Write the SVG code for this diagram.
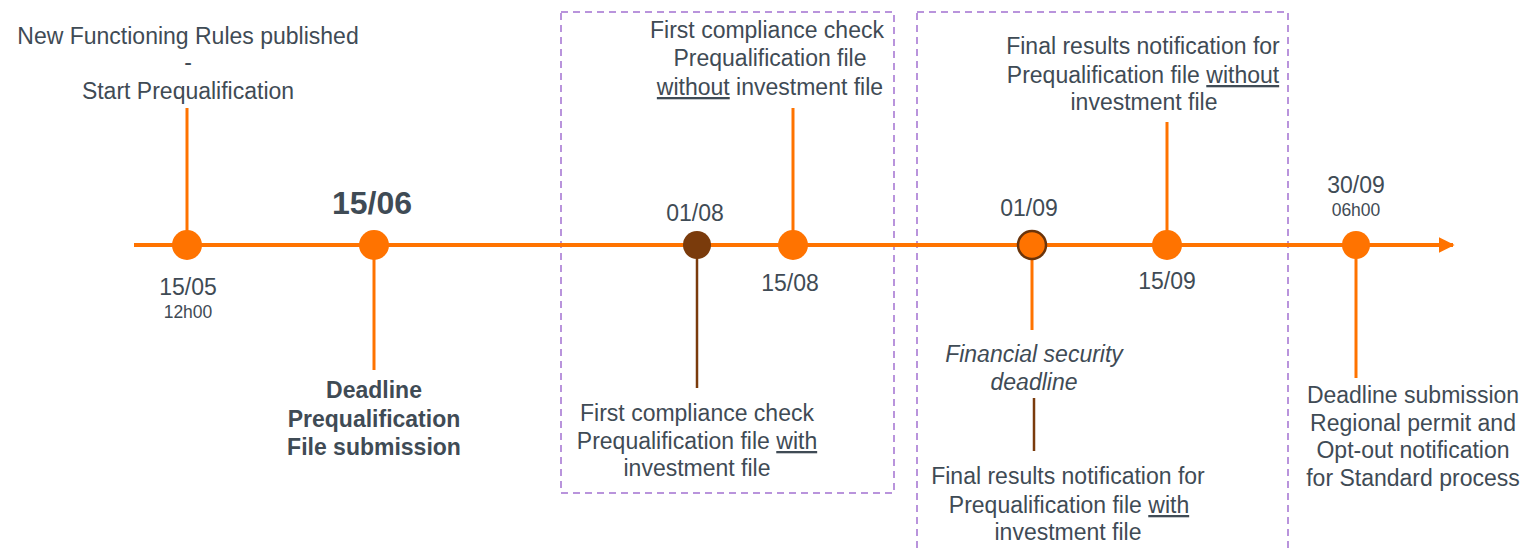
<svg xmlns="http://www.w3.org/2000/svg" width="1524" height="549" viewBox="0 0 1524 549">
<defs>
<style>
text{font-family:"Liberation Sans",Arial,sans-serif;fill:#3f4b55;font-size:23px;text-anchor:middle}
.sm{font-size:17.5px}
.b{font-weight:bold}
.i{font-style:italic}
.u{text-decoration:underline}
.or{stroke:#ff7300;stroke-width:3;fill:none}
.br{stroke:#7a3b0c;stroke-width:2.5;fill:none}
.dot{fill:#ff7300}
.box{fill:none;stroke:#a371d1;stroke-width:1.5;stroke-dasharray:7,5}
</style>
<marker id="ah" viewBox="0 0 10 10" refX="9" refY="5" markerWidth="4" markerHeight="4" orient="auto" markerUnits="strokeWidth"><path d="M0,0 L10,5 L0,10 z" fill="#ff7300"/></marker>
</defs>
<rect width="1524" height="549" fill="#fff"/>
<g id="boxes">
<rect class="box" x="561" y="12" width="333" height="481"/>
<rect class="box" x="917" y="12" width="371" height="545"/>
</g>
<g id="connectors">
<line x1="134" y1="245" x2="1453" y2="245" stroke="#ff7300" stroke-width="4" marker-end="url(#ah)"/>
<line class="or" x1="187" y1="108" x2="187" y2="245"/>
<line class="or" x1="374" y1="245" x2="374" y2="370"/>
<line class="br" x1="697" y1="245" x2="697" y2="388"/>
<line class="or" x1="793" y1="108" x2="793" y2="245"/>
<line class="or" x1="1032" y1="245" x2="1032" y2="330"/>
<line class="br" x1="1034" y1="398" x2="1034" y2="451"/>
<line class="or" x1="1167" y1="122" x2="1167" y2="245"/>
<line class="or" x1="1356" y1="245" x2="1356" y2="378"/>
</g>
<g id="n1505">
<circle class="dot" cx="187" cy="245" r="15"/>
<text x="188" y="44">New Functioning Rules published</text>
<text x="188" y="70">-</text>
<text x="188" y="99">Start Prequalification</text>
<text x="188" y="295">15/05</text>
<text class="sm" x="188" y="318">12h00</text>
</g>
<g id="n1506">
<circle class="dot" cx="374" cy="245" r="15"/>
<text class="b" x="372" y="214" style="font-size:32px">15/06</text>
<text class="b" x="374" y="398">Deadline</text>
<text class="b" x="374" y="427">Prequalification</text>
<text class="b" x="374" y="455">File submission</text>
</g>
<g id="n0108">
<circle cx="697" cy="245" r="14" fill="#7a3b0c"/>
<text x="695" y="221">01/08</text>
<text x="697" y="421">First compliance check</text>
<text x="697" y="449">Prequalification file <tspan class="u">with</tspan></text>
<text x="697" y="476">investment file</text>
</g>
<g id="n1508">
<circle class="dot" cx="793" cy="245" r="15"/>
<text x="790" y="291">15/08</text>
<text x="767" y="38">First compliance check</text>
<text x="770" y="66">Prequalification file</text>
<text x="770" y="95"><tspan class="u">without</tspan> investment file</text>
</g>
<g id="n0109">
<circle cx="1032" cy="245" r="14" fill="#ff7300" stroke="#6b340a" stroke-width="2.5"/>
<text x="1029" y="216">01/09</text>
<text class="i" x="1034" y="362">Financial security</text>
<text class="i" x="1034" y="390">deadline</text>
<text x="1068" y="484">Final results notification for</text>
<text x="1069" y="513">Prequalification file <tspan class="u">with</tspan></text>
<text x="1068" y="540">investment file</text>
</g>
<g id="n1509">
<circle class="dot" cx="1167" cy="245" r="15"/>
<text x="1167" y="289">15/09</text>
<text x="1143" y="54">Final results notification for</text>
<text x="1143" y="83">Prequalification file <tspan class="u">without</tspan></text>
<text x="1144" y="110">investment file</text>
</g>
<g id="n3009">
<circle class="dot" cx="1356" cy="245" r="14"/>
<text x="1356" y="193">30/09</text>
<text class="sm" x="1356" y="216">06h00</text>
<text x="1413" y="403">Deadline submission</text>
<text x="1413" y="431">Regional permit and</text>
<text x="1413" y="458">Opt-out notification</text>
<text x="1413" y="486">for Standard process</text>
</g>
</svg>
